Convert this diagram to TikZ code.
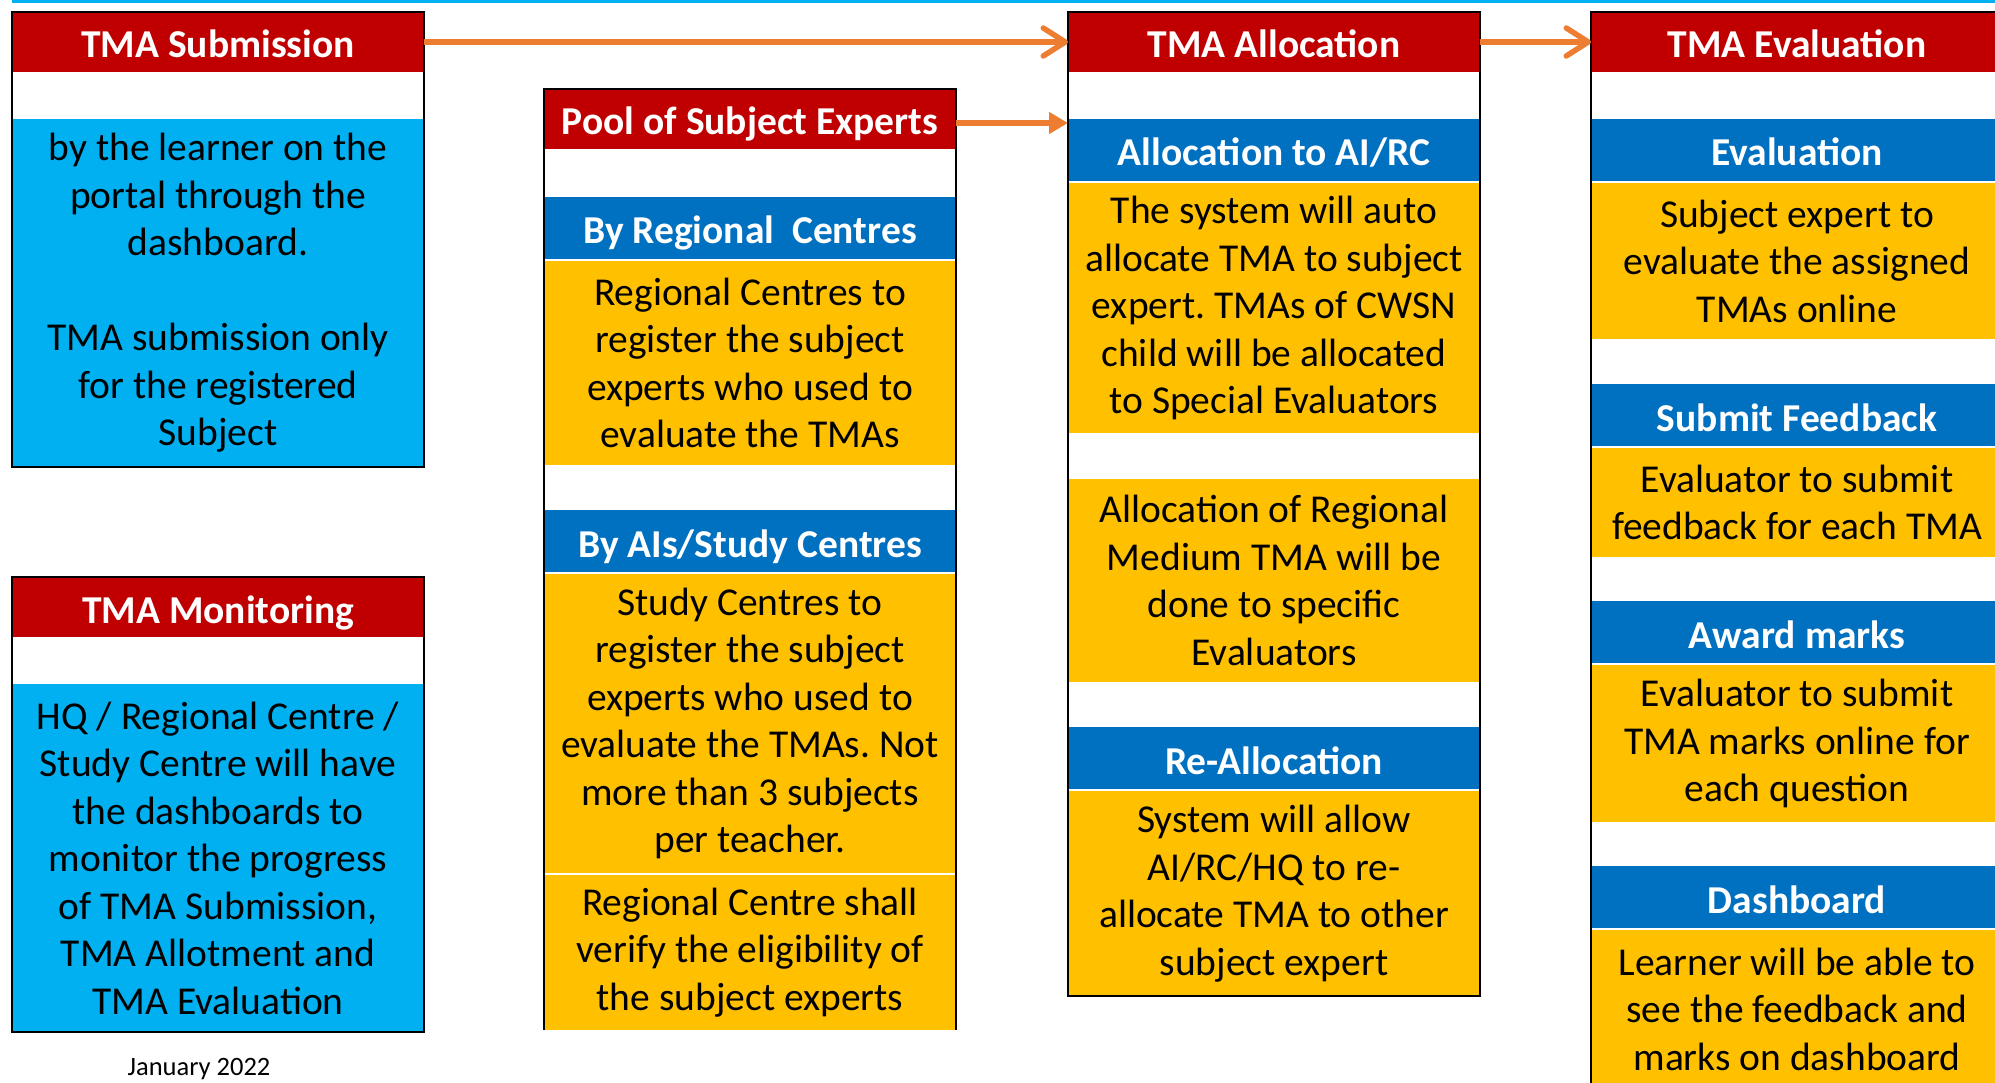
\documentclass[tikz,border=0pt]{standalone}
\usepackage{fontspec}
\setmainfont{Carlito}
\usetikzlibrary{positioning,arrows.meta,fit}
\definecolor{hdred}{HTML}{C00000}
\definecolor{barblue}{HTML}{0070C0}
\definecolor{txtgold}{HTML}{FFC000}
\definecolor{skyblue}{HTML}{00B0F0}
\definecolor{flowor}{HTML}{ED7D31}
\frenchspacing

\begin{document}
\begin{tikzpicture}[x=1pt, y=-1pt,
    every node/.style={inner sep=0pt, outer sep=0pt},
    headbox/.style={fill=hdred, text=white, minimum width=412pt, minimum height=60pt,
        text height=34pt, text depth=2pt, font=\bfseries\fontsize{39.5}{46}\selectfont},
    barbox/.style={fill=barblue, text=white, minimum width=412pt, minimum height=62pt,
        text height=34pt, text depth=2pt, font=\bfseries\fontsize{39.5}{46}\selectfont},
    textbox/.style={fill=txtgold, minimum width=412pt, align=center,
        font=\fontsize{39.5}{47.5}\selectfont},
    skybox/.style={textbox, fill=skyblue},
    boxframe/.style={draw=black, line width=2.5pt, inner sep=0pt},
    flow/.style={draw=flowor, line width=5.5pt}]

    \clip (0,0) rectangle (1995,1083);
    \fill[skyblue] (12,0) rectangle (1995,3);

    % submission and monitoring
    \node[headbox, anchor=north] (sub) at (218,12) {TMA Submission};
    \node[skybox, minimum height=348pt, below=47pt of sub] (subtxt) {by the learner on the\\portal through the\\dashboard.\\[47.5pt]TMA submission only\\for the registered\\Subject};
    \node[headbox, anchor=north] (mon) at (218,577) {TMA Monitoring};
    \node[skybox, minimum height=348pt, below=47pt of mon] (montxt) {HQ / Regional Centre /\\Study Centre will have\\the dashboards to\\monitor the progress\\of TMA Submission,\\TMA Allotment and\\TMA Evaluation};
    \node[font=\fontsize{26.5}{30}\selectfont] (datenote) at (199,1069) {January 2022};

    % pool of experts
    \node[headbox, anchor=north] (pool) at (750,89) {Pool of Subject Experts};
    \node[barbox, below=48pt of pool] (rc) {By Regional\ \ Centres};
    \node[textbox, minimum height=204pt, below=2pt of rc] (rctxt) {Regional Centres to\\register the subject\\experts who used to\\evaluate the TMAs};
    \node[barbox, below=45pt of rctxt] (ai) {By AIs/Study Centres};
    \node[textbox, minimum height=299pt, below=2pt of ai] (aitxt) {Study Centres to\\register the subject\\experts who used to\\evaluate the TMAs. Not\\more than 3 subjects\\per teacher.};
    \node[textbox, minimum height=155pt, below=2pt of aitxt] (vertxt) {Regional Centre shall\\verify the eligibility of\\the subject experts};

    % allocation
    \node[headbox, anchor=north] (alloc) at (1274,12) {TMA Allocation};
    \node[barbox, below=47pt of alloc] (airc) {Allocation to AI/RC};
    \node[textbox, minimum height=250pt, below=2pt of airc] (autotxt) {The system will auto\\allocate TMA to subject\\expert. TMAs of CWSN\\child will be allocated\\to Special Evaluators};
    \node[textbox, minimum height=203pt, below=46pt of autotxt] (medtxt) {Allocation of Regional\\Medium TMA will be\\done to specific\\Evaluators};
    \node[barbox, below=45pt of medtxt] (realloc) {Re-Allocation};
    \node[textbox, minimum height=205pt, below=2pt of realloc] (realtxt) {System will allow\\AI/RC/HQ to re-\\allocate TMA to other\\subject expert};

    % evaluation
    \node[headbox, anchor=north] (eval) at (1797,12) {TMA Evaluation};
    \node[barbox, below=47pt of eval] (ev) {Evaluation};
    \node[textbox, minimum height=156pt, below=2pt of ev] (evtxt) {Subject expert to\\evaluate the assigned\\TMAs online};
    \node[barbox, below=45pt of evtxt] (fb) {Submit Feedback};
    \node[textbox, minimum height=109pt, below=2pt of fb] (fbtxt) {Evaluator to submit\\feedback for each TMA};
    \node[barbox, below=44pt of fbtxt] (aw) {Award marks};
    \node[textbox, minimum height=157pt, below=2pt of aw] (awtxt) {Evaluator to submit\\TMA marks online for\\each question};
    \node[barbox, below=44pt of awtxt] (db) {Dashboard};
    \node[textbox, minimum height=158pt, below=2pt of db] (dbtxt) {Learner will be able to\\see the feedback and\\marks on dashboard};

    % frames
    \node[boxframe, fit=(sub)(subtxt)] (subframe) {};
    \node[boxframe, fit=(mon)(montxt)] (monframe) {};
    \draw[boxframe] (vertxt.south west) |- (pool.north east) -- (vertxt.south east);
    \node[boxframe, fit=(alloc)(realtxt)] (allocframe) {};
    \node[boxframe, fit=(eval)(dbtxt)] (evalframe) {};

    % flow arrows
    \draw[flow, -{Straight Barb[length=22pt, width=28pt, round]}] (sub) -- (alloc);
    \draw[flow, -{Triangle[length=19pt, width=21pt]}] ([yshift=-4pt]pool.east) -- ([yshift=-4pt]pool.east -| airc.west);
    \draw[flow, -{Straight Barb[length=22pt, width=28pt, round]}] (alloc) -- (eval);
\end{tikzpicture}
\end{document}
